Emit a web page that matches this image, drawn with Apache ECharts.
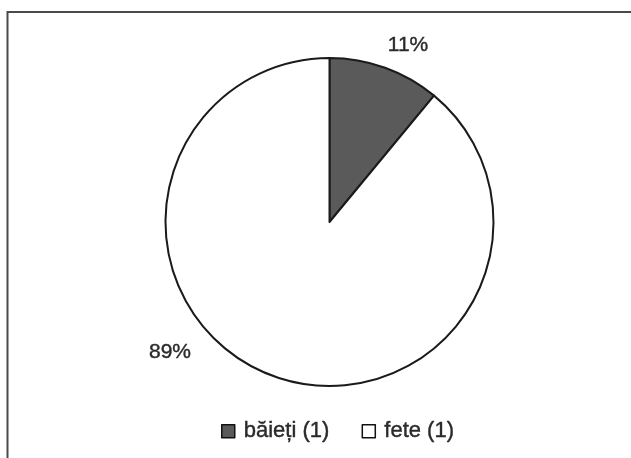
<!DOCTYPE html>
<html>
<head>
<meta charset="utf-8">
<script src="https://cdn.jsdelivr.net/npm/echarts@6/dist/echarts.min.js"></script>
<style>
  html, body { margin: 0; padding: 0; background: #fff; }
  #chart { width: 631px; height: 458px; }
</style>
</head>
<body>
<div id="chart"></div>
<script>
// Share of pupils by gender
const categories = ['băieți (1)', 'fete (1)'];
const shares = [11, 89];
const sliceColors = ['#5a5a5a', '#ffffff'];

// Where each percentage label sits
const labelSpots = [[408, 45], [170, 352]];

const textInk = '#2a2a2a';

const chart = echarts.init(document.getElementById('chart'), null, { renderer: 'canvas' });

chart.setOption({
  animation: false,
  backgroundColor: '#ffffff',
  textStyle: { fontFamily: 'Liberation Sans, Arial, sans-serif' },
  graphic: [{
    type: 'rect',
    shape: { x: 7.5, y: 12, width: 700, height: 500 },
    style: { fill: 'none', stroke: '#4a4a4a', lineWidth: 2 },
    silent: true
  }],
  legend: {
    data: categories,
    left: 216,
    top: 415,
    itemWidth: 13,
    itemHeight: 13,
    itemGap: 32,
    icon: 'rect',
    selectedMode: false,
    itemStyle: { borderColor: '#111', borderWidth: 1.5 },
    textStyle: {
      fontSize: 22,
      color: textInk,
      textBorderColor: textInk,
      textBorderWidth: 0.4,
      fontFamily: 'Liberation Sans, Arial, sans-serif',
      padding: [0, 0, 0, 4]
    }
  },
  series: [{
    type: 'pie',
    center: [329.5, 222],
    radius: 164,
    startAngle: 90,
    clockwise: true,
    avoidLabelOverlap: false,
    itemStyle: { borderColor: '#1a1a1a', borderWidth: 2 },
    label: {
      show: true,
      position: 'outside',
      formatter: '{d}%',
      fontSize: 21,
      color: textInk,
      textBorderColor: textInk,
      textBorderWidth: 0.4,
      fontFamily: 'Liberation Sans, Arial, sans-serif'
    },
    labelLine: { show: false },
    labelLayout: function (params) {
      const p = labelSpots[params.dataIndex];
      return { x: p[0], y: p[1], align: 'center', verticalAlign: 'middle' };
    },
    emphasis: { disabled: true },
    data: categories.map((name, i) => ({
      name: name,
      value: shares[i],
      itemStyle: { color: sliceColors[i] }
    }))
  }]
});
</script>
</body>
</html>
